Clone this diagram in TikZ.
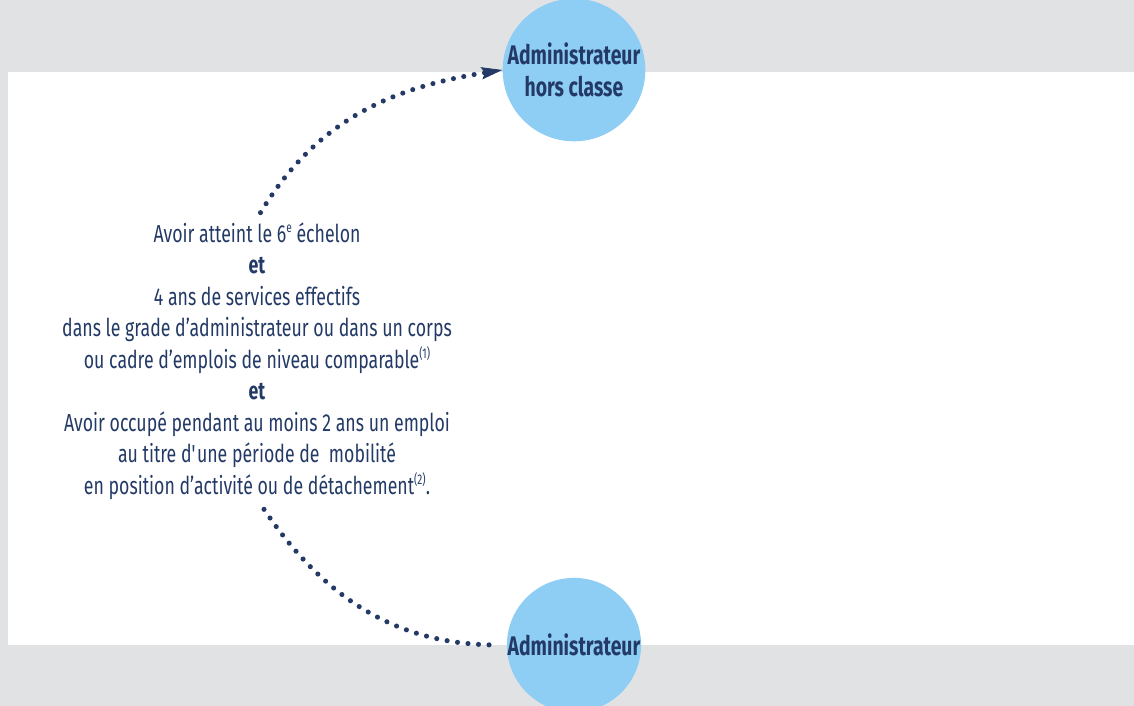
\documentclass[tikz,border=0pt]{standalone}
\usepackage{fontspec}
\setmainfont{Fira Sans}[FakeStretch=0.72]
\usepackage{xcolor}
\usetikzlibrary{arrows.meta}
\definecolor{fondgris}{HTML}{E1E2E4}
\definecolor{bleuclair}{HTML}{8ECEF5}
\definecolor{bleunuit}{HTML}{243A66}
\newcommand{\expo}[1]{\raisebox{0.75ex}{\fontsize{8}{8}\selectfont #1}}

\begin{document}
\begin{tikzpicture}[x=0.02cm,y=0.02cm,
	grade node/.style={circle, fill=bleuclair, inner sep=0pt, minimum size=2.64cm, align=center, text=bleunuit, font=\bfseries\fontsize{15.3}{18}\selectfont},
	cond node/.style={align=center, text=bleunuit, font=\fontsize{14}{17.95}\selectfont},
	dot edge/.style={draw=bleunuit, line width=2.9pt, line cap=round, dash pattern=on 0pt off 6pt}]
			\useasboundingbox (0,0) rectangle (1134,706);
			% Fond
			\fill[fondgris] (0,0) rectangle (1134,706);
			\fill[white] (8,61) rectangle (1134,634);
			
			% Nodes
			\node[grade node] (hc) at (574,636) {Administrateur\\hors classe};
			\node[grade node] (adm) at (574,61) {Administrateur};
			\node[cond node] (cond) at (257,345) {Avoir atteint le 6\expo{e} échelon\\
				\textbf{et}\\
				4 ans de services effectifs\\
				dans le grade d’administrateur ou dans un corps\\
				ou cadre d’emplois de niveau comparable\expo{(1)}\\
				\textbf{et}\\
				Avoir occupé pendant au moins 2 ans un emploi\\
				au titre d\textquotesingle une période de~ mobilité\\
				en position d’activité ou de détachement\expo{(2)}.};
			
			% Fleches
			\draw[dot edge, -{Stealth[length=12pt, width=7pt, inset=2pt, line width=0.5pt]}]
				([xshift=2pt, yshift=2pt]cond.north) to[out=59, in=189] (hc.west);
			\draw[dot edge, shorten >=5pt]
				([xshift=4pt, yshift=-2pt]cond.south) to[out=-56, in=180] (adm.west);
			
		\end{tikzpicture}
\end{document}
